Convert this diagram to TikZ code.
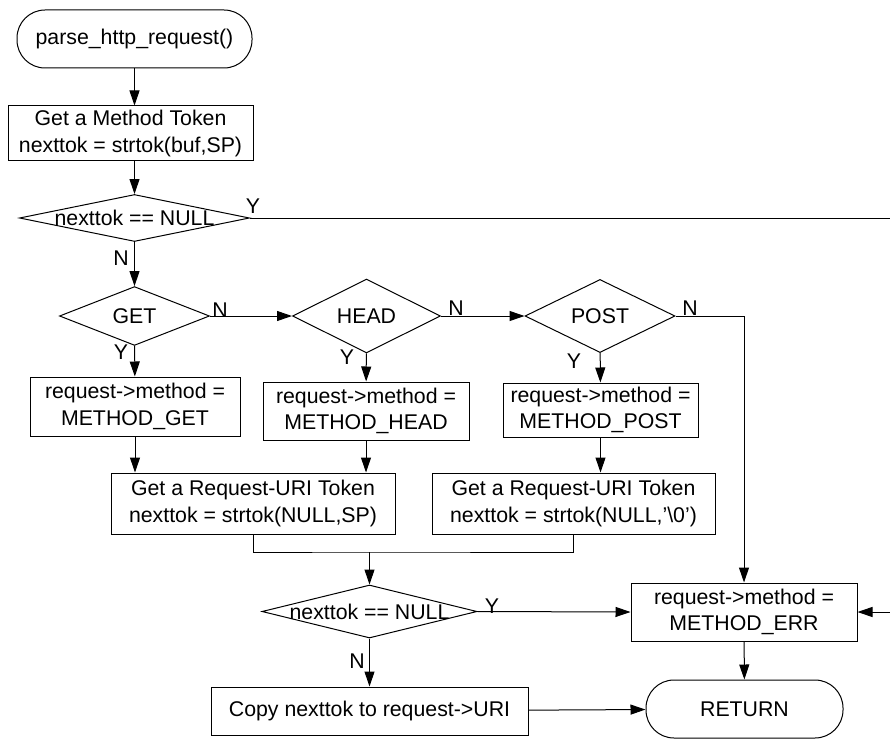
\documentclass[tikz,border=0pt]{standalone}
\usepackage{fontspec}
\setmainfont{Liberation Sans}
\usetikzlibrary{arrows.meta,shapes.geometric}
\newcommand{\zw}[1]{\makebox[0pt]{#1}}

\begin{document}
\begin{tikzpicture}[x=1pt, y=-1pt, font=\fontsize{21.3}{26.5}\selectfont,
  box/.style={draw, line width=1pt, align=center, inner sep=0pt},
  term/.style={box, rounded corners=28pt},
  decision/.style={diamond, draw, line width=1pt, inner sep=0pt},
  flow/.style={-{Triangle[length=15pt,width=10pt]}, line width=1pt},
  link/.style={line width=1pt},
  lbl/.style={inner sep=0pt}]
\useasboundingbox (0,0) rectangle (890,738);
\node[term, minimum width=235pt, minimum height=58pt] (start) at (134.5,39) {parse\_http\_request()};
\node[box, minimum width=245pt, minimum height=55pt] (getm) at (130.5,133.5) {Get a Method Token\\nexttok = strtok(buf,SP)};
\node[decision, minimum width=230pt, minimum height=47pt] (d1) at (134.5,218) {\zw{nexttok == NULL}};
\node[decision, minimum width=150pt, minimum height=55pt] (get) at (134.5,316) {GET};
\node[decision, minimum width=148pt, minimum height=56pt] (head) at (366.5,316) {HEAD};
\node[decision, minimum width=150pt, minimum height=57pt] (post) at (600,316) {POST};
\node[box, minimum width=210pt, minimum height=59pt] (mget) at (135,406.5) {request->method =\\METHOD\_GET};
\node[box, minimum width=206pt, minimum height=58pt] (mhead) at (366,411) {request->method =\\METHOD\_HEAD};
\node[box, minimum width=195pt, minimum height=54pt] (mpost) at (600.5,410) {request->method =\\METHOD\_POST};
\node[box, minimum width=284pt, minimum height=61pt] (uri1) at (253,503.5) {Get a Request-URI Token\\nexttok = strtok(NULL,SP)};
\node[box, minimum width=283pt, minimum height=61pt] (uri2) at (573.5,503.5) {Get a Request-URI Token\\nexttok = strtok(NULL,'\textbackslash0')};
\node[decision, minimum width=215pt, minimum height=53pt] (d3) at (369.5,611.5) {\zw{nexttok == NULL}};
\node[box, minimum width=226pt, minimum height=58pt] (err) at (744,612) {request->method =\\METHOD\_ERR};
\node[box, minimum width=317pt, minimum height=48pt] (copy) at (369.5,711) {Copy nexttok to request->URI};
\node[term, minimum width=197pt, minimum height=58pt] (ret) at (744.5,709) {RETURN};
\coordinate (rim1) at (890,218);
\coordinate (rim2) at (890,612);
\coordinate (join) at (369.5,552);
% branch labels
\node[lbl] (y1) at (253,206) {Y};
\node[lbl] (n1) at (121,258) {N};
\node[lbl] (n2) at (220,310) {N};
\node[lbl] (n3) at (456,308) {N};
\node[lbl] (n4) at (690,308) {N};
\node[lbl] (y2) at (121,352) {Y};
\node[lbl] (y3) at (347,357) {Y};
\node[lbl] (y4) at (574,361) {Y};
\node[lbl] (y5) at (492,606) {Y};
\node[lbl] (n5) at (357,661) {N};
% connectors
\path [flow] (start) edge (start.south |- getm.north);
\path [flow] (getm.south -| d1.north) edge (d1);
\path [link] (d1.east) edge (rim1);
\path [flow] (d1) edge (get);
\path [flow] (get) edge (head);
\path [flow] (head) edge (post);
\draw [flow] (post.east) -| (err.north);
\path [flow] (get) edge (mget);
\path [flow] (head) edge (mhead);
\path [flow] (post) edge (mpost);
\path [flow] (mget.south) edge (mget.south |- uri1.north);
\path [flow] (mhead.south) edge (mhead.south |- uri1.north);
\path [flow] (mpost.south) edge (mpost.south |- uri2.north);
\draw [link] (uri1.south) |- (join) -| (uri2.south);
\path [flow] (join) edge (d3);
\path [flow] (d3.east) edge (err.west);
\path [flow] (rim2) edge (err.east);
\path [flow] (err) edge (ret);
\path [flow] (d3) edge (copy);
\path [flow] (copy) edge (ret);
\end{tikzpicture}
\end{document}
